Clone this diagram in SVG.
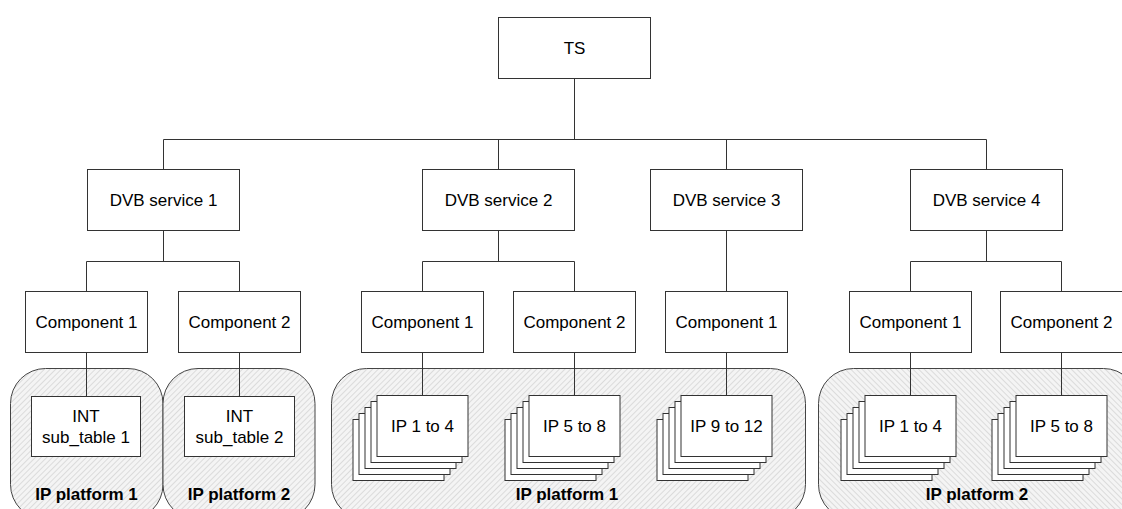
<svg xmlns="http://www.w3.org/2000/svg" width="1122" height="509" viewBox="0 0 1122 509">
<style>
.box{fill:#fff;stroke:#333;stroke-width:1}
.plat{stroke:#444;stroke-width:1}
.t{font-family:"Liberation Sans",Arial,sans-serif;font-size:17px;fill:#000;text-anchor:middle}
.b{font-weight:bold}
.c{fill:none;stroke:#333;stroke-width:1}
</style>
<defs>
<pattern id="h1" width="4" height="4" patternUnits="userSpaceOnUse" patternTransform="rotate(45)">
<rect width="4" height="4" fill="#f4f4f4"/>
<line x1="0" y1="0" x2="0" y2="4" stroke="#bdbdbd" stroke-width="0.9"/>
</pattern>
<pattern id="h2" width="4" height="4" patternUnits="userSpaceOnUse" patternTransform="rotate(-45)">
<rect width="4" height="4" fill="#f4f4f4"/>
<line x1="0" y1="0" x2="0" y2="4" stroke="#bdbdbd" stroke-width="0.9"/>
</pattern>
<g id="stack">
<rect class="box" x="-24" y="24" width="91" height="61"/>
<rect class="box" x="-18" y="18" width="91" height="61"/>
<rect class="box" x="-12" y="12" width="91" height="61"/>
<rect class="box" x="-6" y="6" width="91" height="61"/>
<rect class="box" x="0" y="0" width="91" height="61"/>
</g>
</defs>

<g id="platforms">
<g id="platform-a"><rect class="plat" x="10.5" y="368.5" width="152.5" height="151" rx="35" fill="url(#h1)"/></g>
<g id="platform-b"><rect class="plat" x="163" y="368.5" width="152" height="151" rx="35" fill="url(#h1)"/></g>
<g id="platform-c"><rect class="plat" x="331.5" y="368.5" width="474" height="151" rx="35" fill="url(#h1)"/></g>
<g id="platform-d"><rect class="plat" x="818.5" y="368.5" width="320" height="151" rx="35" fill="url(#h2)"/></g>
</g>

<g id="connectors">
<path class="c" d="M574.5 78.5V139.5M163.5 139.5H986.5M163.5 139.5V169.5M498.5 139.5V169.5M726.5 139.5V169.5M986.5 139.5V169.5"/>
<path class="c" d="M163.5 230.5V261.5M86.5 261.5H239.5M86.5 261.5V291.5M239.5 261.5V291.5"/>
<path class="c" d="M498.5 230.5V261.5M422.5 261.5H574.5M422.5 261.5V291.5M574.5 261.5V291.5"/>
<path class="c" d="M726.5 230.5V291.5"/>
<path class="c" d="M986.5 230.5V261.5M910.5 261.5H1061.5M910.5 261.5V291.5M1061.5 261.5V291.5"/>
<path class="c" d="M86.5 352.5V396.5M239.5 352.5V396.5M422.5 352.5V395.5M574.5 352.5V395.5M726.5 352.5V395.5M910.5 352.5V395.5M1061.5 352.5V395.5"/>
</g>

<g id="ts"><rect class="box" x="498.5" y="17.5" width="152" height="61"/><text class="t" x="574.5" y="53.5">TS</text></g>

<g id="dvb1"><rect class="box" x="87.5" y="169.5" width="152" height="61"/><text class="t" x="163.5" y="205.5">DVB service 1</text></g>
<g id="dvb2"><rect class="box" x="422.5" y="169.5" width="152" height="61"/><text class="t" x="498.5" y="205.5">DVB service 2</text></g>
<g id="dvb3"><rect class="box" x="650.5" y="169.5" width="152" height="61"/><text class="t" x="726.5" y="205.5">DVB service 3</text></g>
<g id="dvb4"><rect class="box" x="910.5" y="169.5" width="152" height="61"/><text class="t" x="986.5" y="205.5">DVB service 4</text></g>

<g id="s1c1"><rect class="box" x="25.5" y="291.5" width="122" height="61"/><text class="t" x="86.5" y="327.5">Component 1</text></g>
<g id="s1c2"><rect class="box" x="178.5" y="291.5" width="122" height="61"/><text class="t" x="239.5" y="327.5">Component 2</text></g>
<g id="s2c1"><rect class="box" x="361.5" y="291.5" width="122" height="61"/><text class="t" x="422.5" y="327.5">Component 1</text></g>
<g id="s2c2"><rect class="box" x="513.5" y="291.5" width="122" height="61"/><text class="t" x="574.5" y="327.5">Component 2</text></g>
<g id="s3c1"><rect class="box" x="665.5" y="291.5" width="122" height="61"/><text class="t" x="726.5" y="327.5">Component 1</text></g>
<g id="s4c1"><rect class="box" x="849.5" y="291.5" width="122" height="61"/><text class="t" x="910.5" y="327.5">Component 1</text></g>
<g id="s4c2"><rect class="box" x="1000.5" y="291.5" width="122" height="61"/><text class="t" x="1061.5" y="327.5">Component 2</text></g>

<g id="int1"><rect class="box" x="31.5" y="396.5" width="109" height="60"/><text class="t" x="86" y="422">INT</text><text class="t" x="86" y="442.5">sub_table 1</text></g>
<g id="int2"><rect class="box" x="184.5" y="396.5" width="110" height="60"/><text class="t" x="239.5" y="422">INT</text><text class="t" x="239.5" y="442.5">sub_table 2</text></g>

<g id="ip-a"><use href="#stack" x="377" y="395.5"/><text class="t" x="422.5" y="432">IP 1 to 4</text></g>
<g id="ip-b"><use href="#stack" x="529" y="395.5"/><text class="t" x="574.5" y="432">IP 5 to 8</text></g>
<g id="ip-c"><use href="#stack" x="681" y="395.5"/><text class="t" x="726.5" y="432">IP 9 to 12</text></g>
<g id="ip-d"><use href="#stack" x="865" y="395.5"/><text class="t" x="910.5" y="432">IP 1 to 4</text></g>
<g id="ip-e"><use href="#stack" x="1016" y="395.5"/><text class="t" x="1061.5" y="432">IP 5 to 8</text></g>

<g id="labels">
<text class="t b" x="86.5" y="499.5">IP platform 1</text>
<text class="t b" x="239" y="499.5">IP platform 2</text>
<text class="t b" x="567" y="499.5">IP platform 1</text>
<text class="t b" x="977" y="499.5">IP platform 2</text>
</g>
</svg>
